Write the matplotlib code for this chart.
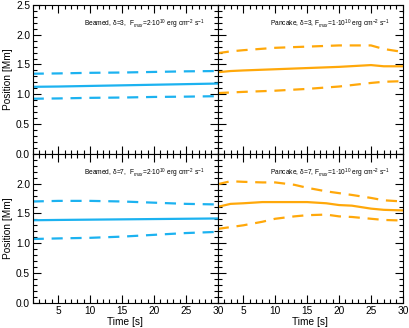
import numpy as np
import matplotlib
matplotlib.use('Agg')
import matplotlib.pyplot as plt
from matplotlib.ticker import MultipleLocator, FormatStrFormatter

plt.rcParams['font.family'] = ['Liberation Sans', 'DejaVu Sans']
plt.rcParams['mathtext.fontset'] = 'custom'
plt.rcParams['mathtext.rm'] = 'Liberation Sans'
plt.rcParams['mathtext.it'] = 'Liberation Sans:italic'

blue = '#1cb2f0'
orange = '#ffa80a'

# sample times [s]
t = [1, 5, 10, 15, 20, 25, 30]
t_fine = [1, 3, 5, 8, 10, 13, 15, 18, 20, 22, 25, 27, 30]

# beamed, delta=3
b3_mid = [1.125, 1.13, 1.14, 1.15, 1.16, 1.17, 1.18]
b3_up = [1.345, 1.35, 1.36, 1.365, 1.375, 1.385, 1.39]
b3_lo = [0.925, 0.93, 0.94, 0.945, 0.955, 0.96, 0.968]

# pancake, delta=3
p3_t = [1, 3, 5, 10, 15, 20, 25, 27, 30]
p3_mid = [1.37, 1.39, 1.40, 1.42, 1.44, 1.46, 1.49, 1.47, 1.47]
p3_up = [1.69, 1.72, 1.74, 1.78, 1.80, 1.82, 1.82, 1.76, 1.71]
p3_lo = [1.02, 1.03, 1.04, 1.06, 1.09, 1.13, 1.19, 1.21, 1.22]

# beamed, delta=7
b7_mid = [1.385, 1.39, 1.395, 1.40, 1.405, 1.41, 1.415]
b7_up = [1.70, 1.71, 1.71, 1.70, 1.68, 1.66, 1.65]
b7_lo = [1.07, 1.08, 1.09, 1.11, 1.14, 1.17, 1.19]

# pancake, delta=7
p7_mid = [1.61, 1.66, 1.67, 1.69, 1.69, 1.69, 1.69, 1.67, 1.64, 1.63, 1.58, 1.56, 1.55]
p7_up = [1.99, 2.04, 2.03, 2.02, 2.02, 1.98, 1.93, 1.87, 1.84, 1.81, 1.76, 1.72, 1.70]
p7_lo = [1.24, 1.27, 1.30, 1.36, 1.41, 1.45, 1.47, 1.48, 1.45, 1.44, 1.41, 1.39, 1.38]

panels = [
    (t, b3_mid, b3_up, b3_lo, blue, 'Beamed, δ=3,  F$_{max}$=2·10$^{10}$ erg cm$^{-2}$ s$^{-1}$'),
    (p3_t, p3_mid, p3_up, p3_lo, orange, 'Pancake, δ=3, F$_{max}$=1·10$^{10}$ erg cm$^{-2}$ s$^{-1}$'),
    (t, b7_mid, b7_up, b7_lo, blue, 'Beamed, δ=7,  F$_{max}$=2·10$^{10}$ erg cm$^{-2}$ s$^{-1}$'),
    (t_fine, p7_mid, p7_up, p7_lo, orange, 'Pancake, δ=7, F$_{max}$=1·10$^{10}$ erg cm$^{-2}$ s$^{-1}$'),
]

fig, axarr = plt.subplots(2, 2, figsize=(4.09, 3.28), dpi=100)
fig.subplots_adjust(left=0.08, right=0.985, top=0.985, bottom=0.077, wspace=0, hspace=0)

for i, (ax, (tt, mid, up, lo, col, label)) in enumerate(zip(axarr.flat, panels)):
    ax.plot(tt, mid, color=col, lw=1.6)
    ax.plot(tt, up, color=col, lw=1.6, ls=(0, (5, 3.5)))
    ax.plot(tt, lo, color=col, lw=1.6, ls=(0, (5, 3.5)))
    ax.set_xlim(1, 30)
    ax.set_ylim(0, 2.5)
    ax.xaxis.set_major_locator(MultipleLocator(5))
    ax.xaxis.set_minor_locator(MultipleLocator(1))
    ax.yaxis.set_major_locator(MultipleLocator(0.5))
    ax.yaxis.set_minor_locator(MultipleLocator(0.1))
    ax.yaxis.set_major_formatter(FormatStrFormatter('%.1f'))
    ax.tick_params(which='both', direction='in', top=True, right=True,
                   labelsize=7.3, width=0.8, pad=2)
    ax.tick_params(which='major', length=6)
    ax.tick_params(which='minor', length=3)
    for s in ax.spines.values():
        s.set_linewidth(0.8)
    ax.text(0.93, 0.87, label, transform=ax.transAxes, ha='right', va='center', fontsize=4.8)
    row, colm = divmod(i, 2)
    if row == 0:
        ax.tick_params(labelbottom=False)
    else:
        ax.set_xlabel('Time [s]', fontsize=7.3, labelpad=1)
        ax.set_yticks([0, 0.5, 1.0, 1.5, 2.0])
        ax.yaxis.set_minor_locator(MultipleLocator(0.1))
    if colm == 1:
        ax.tick_params(labelleft=False)
    else:
        ax.set_ylabel('Position [Mm]', fontsize=7.3, labelpad=2)

plt.savefig('out.png', dpi=100)
plt.close()
